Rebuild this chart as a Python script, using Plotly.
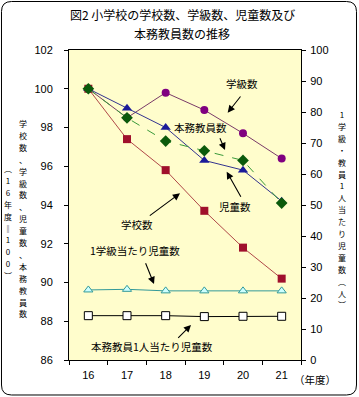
import plotly.graph_objects as go

# ---- data ----
years = ["16", "17", "18", "19", "20", "21"]
schools = [100, 97.4, 95.8, 93.7, 91.8, 90.2]          # 学校数 (index)
classes = [100, 98.5, 99.8, 98.9, 97.7, 96.4]          # 学級数 (index)
pupils = [100, 99.0, 98.0, 96.3, 95.8, 94.2]           # 児童数 (index)
teachers = [100, 98.5, 97.3, 96.8, 96.3, 94.1]         # 本務教員数 (index)
pupils_per_class = [22.6, 22.8, 22.3, 22.3, 22.3, 22.3]    # 1学級当たり児童数 (人)
pupils_per_teacher = [14.3, 14.3, 14.3, 14.0, 14.1, 14.1]  # 本務教員1人当たり児童数 (人)

left_ticks = [86, 88, 90, 92, 94, 96, 98, 100, 102]
right_ticks = [0, 10, 20, 30, 40, 50, 60, 70, 80, 90, 100]

title_lines = ["図2 小学校の学校数、学級数、児童数及び", "本務教員数の推移"]
left_title_main = "学校数、学級数、児童数、本務教員数"
left_title_sub = "︵16年度‖100︶"
right_title = "1学級・教員1人当たり児童数︵人︶"

# ---- geometry ----
W, H = 359, 397
ML, MR, MT, MB = 69, 58, 50, 37
PW, PH = W - ML - MR, H - MT - MB

def px2paper_x(px):
    return (px - ML) / PW

def px2paper_y(py):
    return (H - MB - py) / PH

CJK = "Noto Sans CJK JP"
NUM = "Liberation Sans"

fig = go.Figure()

fig.add_trace(go.Scatter(x=years, y=classes, name="学級数", mode="lines+markers",
                         line=dict(color="#7a3a68", width=1),
                         marker=dict(symbol="circle", size=8, color="#800080")))
fig.add_trace(go.Scatter(x=years, y=pupils, name="児童数", mode="lines+markers",
                         line=dict(color="#33338f", width=1),
                         marker=dict(symbol="triangle-up", size=9, color="#1a1a99")))
fig.add_trace(go.Scatter(x=years, y=schools, name="学校数", mode="lines+markers",
                         line=dict(color="#b04848", width=1),
                         marker=dict(symbol="square", size=8, color="#a0102c")))
fig.add_trace(go.Scatter(x=years, y=teachers, name="本務教員数", mode="lines+markers",
                         line=dict(color="#3a9a3a", width=1, dash="dash"),
                         marker=dict(symbol="diamond", size=9, color="#0b5a0b")))
fig.add_trace(go.Scatter(x=years, y=pupils_per_class, name="1学級当たり児童数", mode="lines+markers",
                         yaxis="y2", line=dict(color="#339999", width=1),
                         marker=dict(symbol="triangle-up", size=8, color="#ccffff",
                                     line=dict(color="#339999", width=1))))
fig.add_trace(go.Scatter(x=years, y=pupils_per_teacher, name="本務教員1人当たり児童数",
                         mode="lines+markers", yaxis="y2", line=dict(color="#000000", width=1),
                         marker=dict(symbol="square", size=8, color="#ffffff",
                                     line=dict(color="#000000", width=1))))

ann = []
labels = [
    ("学級数", 241.7, 84),
    ("本務教員数", 200, 127.3),
    ("児童数", 235, 206.7),
    ("学校数", 136.7, 224),
    ("1学級当たり児童数", 135, 250),
    ("本務教員1人当たり児童数", 151.7, 346.7),
]
for t, px, py in labels:
    ann.append(dict(text=t, x=px2paper_x(px), y=px2paper_y(py), xref="paper", yref="paper",
                    showarrow=False, xanchor="center", yanchor="middle",
                    font=dict(family=CJK, size=10.5, color="#000000")))
arrows = [
    ((241.7, 95), (227.7, 112.7)),
    ((219.3, 136.7), (225, 150)),
    ((241.7, 198.3), (226.7, 171.7)),
    ((148.3, 216.7), (180, 193.3)),
    ((145, 261.7), (154, 284)),
    ((176.7, 339.3), (191, 325)),
]
for (tx, ty), (hx, hy) in arrows:
    ann.append(dict(text="", x=px2paper_x(hx), y=px2paper_y(hy), xref="paper", yref="paper",
                    ax=tx - hx, ay=ty - hy, showarrow=True, arrowhead=2, arrowsize=1.3,
                    arrowwidth=1.1, arrowcolor="#000000"))

for line, py in zip(title_lines, [14.5, 33.5]):
    ann.append(dict(text=line, x=px2paper_x(182), y=px2paper_y(py), xref="paper", yref="paper",
                    showarrow=False, xanchor="center", yanchor="middle",
                    font=dict(family=CJK, size=12, color="#000000")))

# vertical (tategaki) axis titles: one glyph per line in a single text
GLYPH = 8

def vertical(text, px, y0, y1):
    n = len(text)
    step = max((y1 - y0) / (n - 1), GLYPH * 1.45 + 0.3)
    base = step / 1.3
    body = "<br>".join(f"<span style='font-size:{GLYPH}px'>{ch}</span>" for ch in text)
    ann.append(dict(text=body, x=px2paper_x(px), y=px2paper_y((y0 + y1) / 2),
                    xref="paper", yref="paper", showarrow=False,
                    xanchor="center", yanchor="middle", align="center",
                    font=dict(family=CJK, size=base, color="#000000")))

vertical(left_title_main, 23, 128, 308)
vertical(left_title_sub, 8, 175, 270)
vertical(right_title, 342, 128, 290)

ann.append(dict(text="（年度）", x=px2paper_x(315), y=px2paper_y(379), xref="paper", yref="paper",
                showarrow=False, xanchor="center", yanchor="middle",
                font=dict(family=CJK, size=10.5, color="#000000")))

# rounded outer frame
x0, y0, x1, y1, r = 1.5, 1.5, 356.5, 395, 10
pts = [
    ("M", x0 + r, y0), ("L", x1 - r, y0), ("Q", x1, y0, x1, y0 + r),
    ("L", x1, y1 - r), ("Q", x1, y1, x1 - r, y1), ("L", x0 + r, y1),
    ("Q", x0, y1, x0, y1 - r), ("L", x0, y0 + r), ("Q", x0, y0, x0 + r, y0),
]
path = ""
for p in pts:
    coords = p[1:]
    s = [f"{px2paper_x(coords[j]):.5f},{px2paper_y(coords[j+1]):.5f}" for j in range(0, len(coords), 2)]
    path += p[0] + " ".join(s) + " "
path += "Z"

fig.update_layout(
    width=W, height=H,
    margin=dict(l=ML, r=MR, t=MT, b=MB, autoexpand=False),
    paper_bgcolor="#ffffff",
    plot_bgcolor="#fffdcc",
    showlegend=False,
    font=dict(family=NUM, size=11, color="#000000"),
    annotations=ann,
    shapes=[dict(type="path", path=path, xref="paper", yref="paper",
                 line=dict(color="#000000", width=1), layer="above")],
    xaxis=dict(type="category", categoryorder="array", categoryarray=years,
               range=[-0.5, 5.5], showline=True, linecolor="#000000", linewidth=1,
               mirror=True, ticks="outside", ticklen=4, tickcolor="#000000",
               tickson="boundaries", showgrid=False, zeroline=False,
               tickfont=dict(family=NUM, size=11), ticklabelstandoff=5),
    yaxis=dict(range=[86, 102], tickvals=left_ticks, showline=True, linecolor="#000000",
               linewidth=1, mirror=True, ticks="outside", ticklen=4, tickcolor="#000000",
               showgrid=False, zeroline=False, tickfont=dict(family=NUM, size=11),
               ticklabelstandoff=9),
    yaxis2=dict(range=[0, 100], tickvals=right_ticks, overlaying="y", side="right",
                showline=True, linecolor="#000000", linewidth=1, ticks="outside",
                ticklen=4, tickcolor="#000000", showgrid=False, zeroline=False,
                tickfont=dict(family=NUM, size=11), ticklabelstandoff=2),
)

fig.write_html("out.html", config={"displayModeBar": False},
               post_script="document.body.style.margin='0';document.body.style.overflow='hidden';")
